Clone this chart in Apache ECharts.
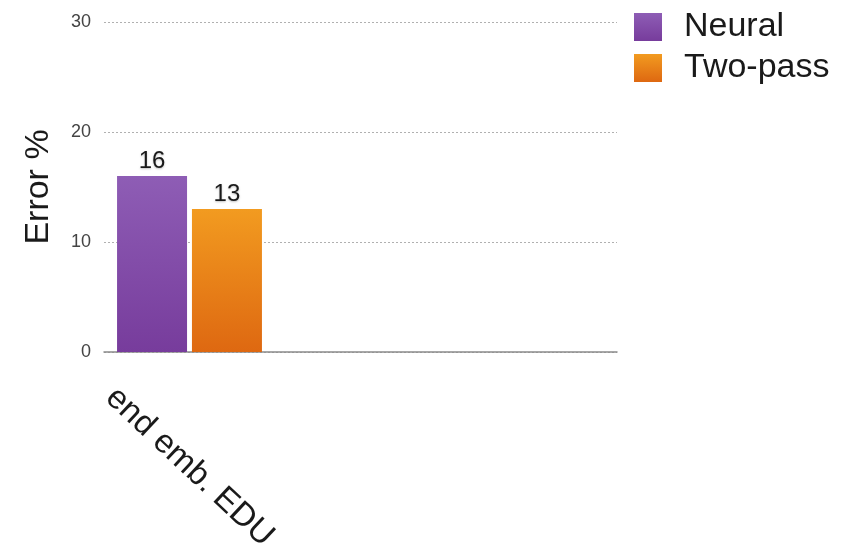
<!DOCTYPE html>
<html>
<head>
<meta charset="utf-8">
<script src="https://cdn.jsdelivr.net/npm/echarts@6/dist/echarts.min.js"></script>
<style>
  html, body { margin: 0; padding: 0; background: #fff; }
  #chart { width: 841px; height: 552px; }
</style>
</head>
<body>
<div id="chart"></div>
<script>
// Categories: only the first slot carries data; the rest keep the axis span.
var categories = ['end emb. EDU', '', ''];
var neuralValues = [16, null, null];
var twoPassValues = [13, null, null];
var seriesNames = ['Neural', 'Two-pass'];

var FONT = '"Liberation Sans", Arial, sans-serif';

function vGrad(top, bottom) {
  return new echarts.graphic.LinearGradient(0, 0, 0, 1, [
    { offset: 0, color: top },
    { offset: 1, color: bottom }
  ]);
}

var valueLabel = {
  show: true,
  position: 'top',
  distance: 3,
  fontFamily: FONT,
  fontSize: 24,
  color: '#1a1a1a',
  textShadowColor: 'rgba(0,0,0,0.25)',
  textShadowBlur: 2,
  textShadowOffsetY: 1
};

var chart = echarts.init(document.getElementById('chart'), null, { renderer: 'canvas' });
chart.setOption({
  animation: false,
  backgroundColor: '#ffffff',
  grid: { left: 104, right: 224, top: 22, bottom: 200, containLabel: false, outerBoundsMode: 'none' },
  legend: {
    orient: 'vertical',
    left: 634,
    top: 10,
    padding: 0,
    itemWidth: 28,
    itemHeight: 28,
    itemGap: 7,
    icon: 'rect',
    textStyle: { fontFamily: FONT, fontSize: 34, lineHeight: 28, color: '#1a1a1a', padding: [5, 0, 0, 17] },
    data: seriesNames
  },
  xAxis: {
    type: 'category',
    data: categories,
    axisLine: { show: true, lineStyle: { color: '#8a8a8a', width: 1.5 } },
    axisTick: { show: false },
    axisLabel: {
      interval: 0,
      rotate: -43,
      align: 'center',
      verticalAlign: 'middle',
      margin: 115,
      fontFamily: FONT,
      fontSize: 33,
      color: '#1a1a1a'
    }
  },
  yAxis: {
    type: 'value',
    min: 0,
    max: 30,
    interval: 10,
    name: 'Error %',
    nameLocation: 'middle',
    nameGap: 48,
    nameTextStyle: { fontFamily: FONT, fontSize: 34, color: '#1a1a1a' },
    axisLine: { show: false },
    axisTick: { show: false },
    axisLabel: { margin: 13, fontFamily: FONT, fontSize: 18, color: '#444' },
    splitLine: { show: true, lineStyle: { color: '#b0b0b0', type: [2, 2], width: 1 } }
  },
  series: [
    {
      name: seriesNames[0],
      type: 'bar',
      data: neuralValues,
      barWidth: 70,
      barGap: '7%',
      itemStyle: { color: vGrad('#8e5db5', '#773c9c') },
      label: valueLabel
    },
    {
      name: seriesNames[1],
      type: 'bar',
      data: twoPassValues,
      barWidth: 70,
      itemStyle: { color: vGrad('#f29b20', '#de6811') },
      label: valueLabel
    }
  ]
});
</script>
</body>
</html>
